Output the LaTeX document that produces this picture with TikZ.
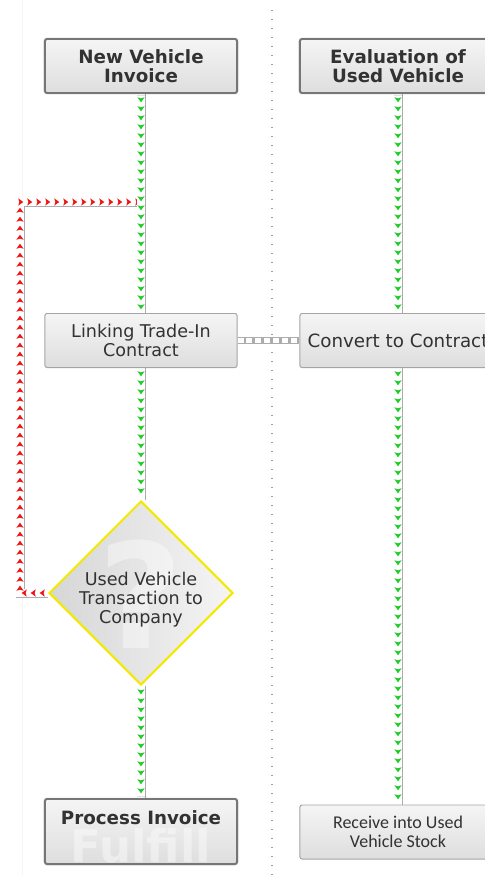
\documentclass[tikz,border=0pt]{standalone}
\usepackage{fontspec}
\setmainfont{DejaVu Sans}
\newfontfamily\narrowfont{Carlito}
\usetikzlibrary{arrows.meta,positioning,shapes.geometric,shadows.blur,decorations.markings,backgrounds}
\definecolor{ink}{RGB}{50,50,50}
\definecolor{rim}{RGB}{118,118,118}
\definecolor{softrim}{RGB}{165,165,165}
\definecolor{tube}{RGB}{172,172,172}
\definecolor{go}{RGB}{30,205,40}
\definecolor{back}{RGB}{240,20,20}
\definecolor{warn}{RGB}{245,232,0}
\tikzset{
  card/.style={rectangle,rounded corners=1.5pt,draw=softrim,line width=0.7pt,
    top color=gray!8,bottom color=gray!26,text=ink,align=center,
    minimum width=#1,minimum height=1.35cm,inner sep=1pt,
    font=\fontsize{12.5}{13.5}\selectfont},
  card/.default=4.8cm,
  head/.style={card=#1,draw=rim,line width=1.4pt,font=\fontsize{13}{13.5}\selectfont\bfseries,
    blur shadow={shadow blur radius=1.5pt,shadow xshift=0pt,shadow yshift=0pt,shadow opacity=35}},
  head/.default=4.8cm,
  decide/.style={diamond,aspect=1,draw=warn,line width=1.4pt,
    left color=gray!32,right color=gray!8,text=ink,align=center,
    minimum width=4.6cm,minimum height=4.6cm,inner sep=0pt,
    font=\fontsize{12.5}{13.5}\selectfont},
  % watermark text laid into a shape
  ghost/.style={rectangle,draw=none,fill=none,minimum size=0pt,inner sep=0pt,
    text=white,opacity=#1,anchor=base},
  ghost/.default=0.5,
  chevron/.style={decoration={markings,mark=between positions 4pt and -1pt step 6.4pt with
    {\fill[#1] (1.9pt,0) -- (-1.7pt,2.6pt) -- (-0.9pt,0) -- (-1.7pt,-2.6pt) -- cycle;}},
    postaction={decorate}},
  pipe/.style={draw=tube,line width=0.7pt,double=white,double distance=5pt,chevron=#1},
  pipe/.default=go,
  tie/.style={draw=tube,line width=5pt,postaction={draw=white,line width=3.4pt,dash pattern=on 4.3pt off 2pt}},
  lane/.style={gray!75,line width=1pt,dash pattern=on 1pt off 5.4pt},
}
\begin{document}
\begin{tikzpicture}[x=0.025cm,y=-0.025cm]
  \useasboundingbox (0,0) rectangle (485,876);
  \clip (0,0) rectangle (485,876);
  % new vehicle lane
  \node[head] (nvi) at (141,66) {New Vehicle\\Invoice};
  \node[card] (link) at (141,340.5) {Linking Trade-In\\Contract};
  \node[decide,path picture={\node[ghost=0.4,font=\fontsize{104}{104}\selectfont\bfseries]
      at ([yshift=0.9cm]path picture bounding box.south) {?};}]
    (dec) at (141,593) {\raisebox{-8.5pt}[0pt][0pt]{\begin{tabular}{@{}c@{}}Used Vehicle\\Transaction to\\Company\end{tabular}}};
  \node[head,minimum height=1.625cm,text height=9.5pt,text depth=19.5pt,
    path picture={\node[ghost=0.42,font=\fontsize{32}{32}\selectfont\bfseries]
      at ([yshift=0.05cm]path picture bounding box.south) {Fulfill};}]
    (proc) at (141,831.5) {Process Invoice};
  % used vehicle lane
  \node[head=4.9cm] (eval) at (398,66) {Evaluation of\\Used Vehicle};
  \node[card=4.9cm,font=\fontsize{13}{14}\selectfont] (conv) at (398,340.5) {Convert to Contract};
  \node[card=4.9cm,font=\narrowfont\fontsize{12.8}{13.5}\selectfont]
    (recv) at (398,832) {Receive into Used\\Vehicle Stock};
  \coordinate (loopfoot) at (20,593);
  \coordinate (loopturn) at (20,202);
  \coordinate (loopjoin) at (141,202);
  \begin{scope}[on background layer]
    \draw[gray!8,line width=0.6pt] (22,0) -- (22,876);
    \draw[lane] (272,10) -- (272,876);
    % rejected transaction goes back up
    \draw[pipe=back] (dec.west) -- (loopfoot) -- (loopturn) -- (loopjoin);
    \foreach \a/\b in {nvi/link,link/dec,dec/proc,eval/conv,conv/recv}
      \draw[pipe] (\a.south) -- (\b.north);
    \draw[tie] (link.east) -- (conv.west);
  \end{scope}
\end{tikzpicture}
\end{document}
